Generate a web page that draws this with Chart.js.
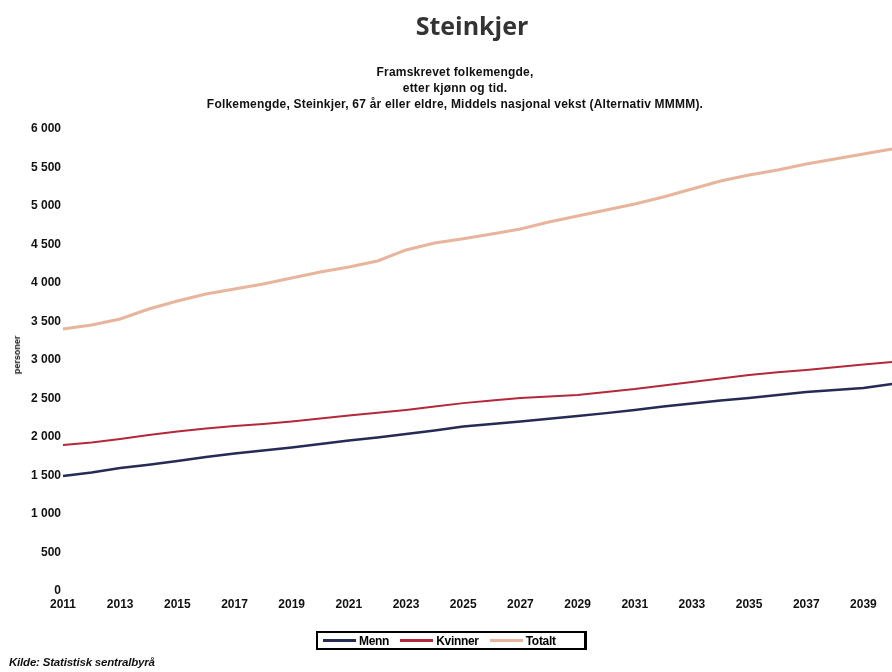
<!DOCTYPE html>
<html lang="no">
<head>
<meta charset="UTF-8">
<script src="https://cdn.jsdelivr.net/npm/chart.js"></script>
<title>Steinkjer</title>
<style>
  body { margin: 0; background: #fff; font-family: "Liberation Sans", Arial, sans-serif; }
  #wrap { position: relative; width: 892px; height: 672px; overflow: hidden; }
  #chart { position: absolute; left: 0; top: 0; }
  .title { position: absolute; left: 0; width: 944px; top: 8px; text-align: center;
           font-family: "Open Sans", sans-serif; font-weight: bold; font-size: 25px; color: #333; }
  .sub { position: absolute; left: 0; width: 910px; text-align: center; font-weight: bold;
         font-size: 12px; letter-spacing: 0.2px; color: #111; line-height: 16px; top: 64px; }
  .ytitle { position: absolute; left: 17px; top: 355px; font-weight: bold; font-size: 9px;
            color: #111; transform: translate(-50%, -50%) rotate(-90deg); }
  #legend { position: absolute; left: 316px; top: 631px; width: 266px; height: 15px;
            border: 2px solid #000; border-right-width: 3px; display: flex; align-items: center;
            font-weight: bold; font-size: 12px; color: #000; letter-spacing: -0.3px; }
  #legend span.item { display: flex; align-items: center; margin-left: 5px; margin-right: 6px; }
  #legend span.sw { display: inline-block; width: 33px; height: 3px; margin-right: 3px; }
  .src { position: absolute; left: 9px; top: 656px; font-style: italic; font-weight: bold;
         font-size: 11.5px; color: #111; letter-spacing: -0.2px; }
</style>
</head>
<body>
<div id="wrap">
  <canvas id="chart" width="898" height="672"></canvas>
  <div class="title">Steinkjer</div>
  <div class="sub">Framskrevet folkemengde,<br>etter kjønn og tid.<br>Folkemengde, Steinkjer, 67 år eller eldre, Middels nasjonal vekst (Alternativ MMMM).</div>
  <div class="ytitle">personer</div>
  <div id="legend"></div>
  <div class="src">Kilde: Statistisk sentralbyrå</div>
</div>
<script>
// år 2011-2040
const years = [2011, 2012, 2013, 2014, 2015, 2016, 2017, 2018, 2019, 2020,
               2021, 2022, 2023, 2024, 2025, 2026, 2027, 2028, 2029, 2030,
               2031, 2032, 2033, 2034, 2035, 2036, 2037, 2038, 2039, 2040];

const menn = [1494, 1540, 1597, 1640, 1688, 1740, 1786, 1825, 1864, 1910,
              1955, 1995, 2039, 2085, 2135, 2170, 2201, 2238, 2273, 2310,
              2351, 2395, 2435, 2475, 2506, 2545, 2584, 2610, 2636, 2688];

const kvinner = [1896, 1930, 1974, 2025, 2071, 2110, 2143, 2170, 2201, 2240,
                 2279, 2315, 2351, 2395, 2440, 2475, 2506, 2525, 2545, 2585,
                 2623, 2670, 2714, 2760, 2805, 2840, 2870, 2905, 2942, 2974];

const totalt = [3403, 3455, 3532, 3662, 3766, 3857, 3922, 3987, 4065, 4143,
                4208, 4286, 4429, 4519, 4575, 4636, 4701, 4792, 4870, 4948,
                5026, 5117, 5221, 5325, 5403, 5468, 5545, 5610, 5675, 5740];

const seriesNames = ['Menn', 'Kvinner', 'Totalt'];
const seriesColors = ['#252b55', '#b3283a', '#e8b59c'];
const seriesWidths = [2.5, 2, 3];

const yMax = 6000;
const yStep = 500;

function fmt(v) {
  return String(v).replace(/\B(?=(\d{3})+(?!\d))/g, ' ');
}

const tickFont = { family: '"Liberation Sans", Arial, sans-serif', size: 12, weight: 'bold' };

const chart = new Chart(document.getElementById('chart'), {
  type: 'line',
  data: {
    labels: years,
    datasets: [menn, kvinner, totalt].map((d, i) => ({
      label: seriesNames[i],
      data: d,
      borderColor: seriesColors[i],
      backgroundColor: seriesColors[i],
      borderWidth: seriesWidths[i],
      pointRadius: 0,
      tension: 0
    }))
  },
  options: {
    responsive: false,
    animation: false,
    layout: { padding: { top: 129, left: 0, right: 0, bottom: 0 } },
    plugins: { legend: { display: false }, title: { display: false }, tooltip: { enabled: false } },
    scales: {
      x: {
        grid: { display: false, drawTicks: false },
        border: { display: false },
        ticks: {
          autoSkip: false, maxRotation: 0, padding: 6, color: '#111', font: tickFont,
          callback: function (v, i) { return i % 2 === 0 ? this.getLabelForValue(v) : ''; }
        },
        afterFit: s => { s.height = 672 - 591; }
      },
      y: {
        min: 0, max: yMax,
        grid: { display: false, drawTicks: false },
        border: { display: false },
        ticks: { stepSize: yStep, padding: 2, color: '#111', font: tickFont, callback: v => fmt(v) },
        afterFit: s => { s.width = 63; }
      }
    }
  }
});

// legend built from the datasets
const legend = document.getElementById('legend');
legend.innerHTML = chart.data.datasets.map(ds =>
  '<span class="item"><span class="sw" style="background:' + ds.borderColor + '"></span>' + ds.label + '</span>'
).join('');
</script>
</body>
</html>
